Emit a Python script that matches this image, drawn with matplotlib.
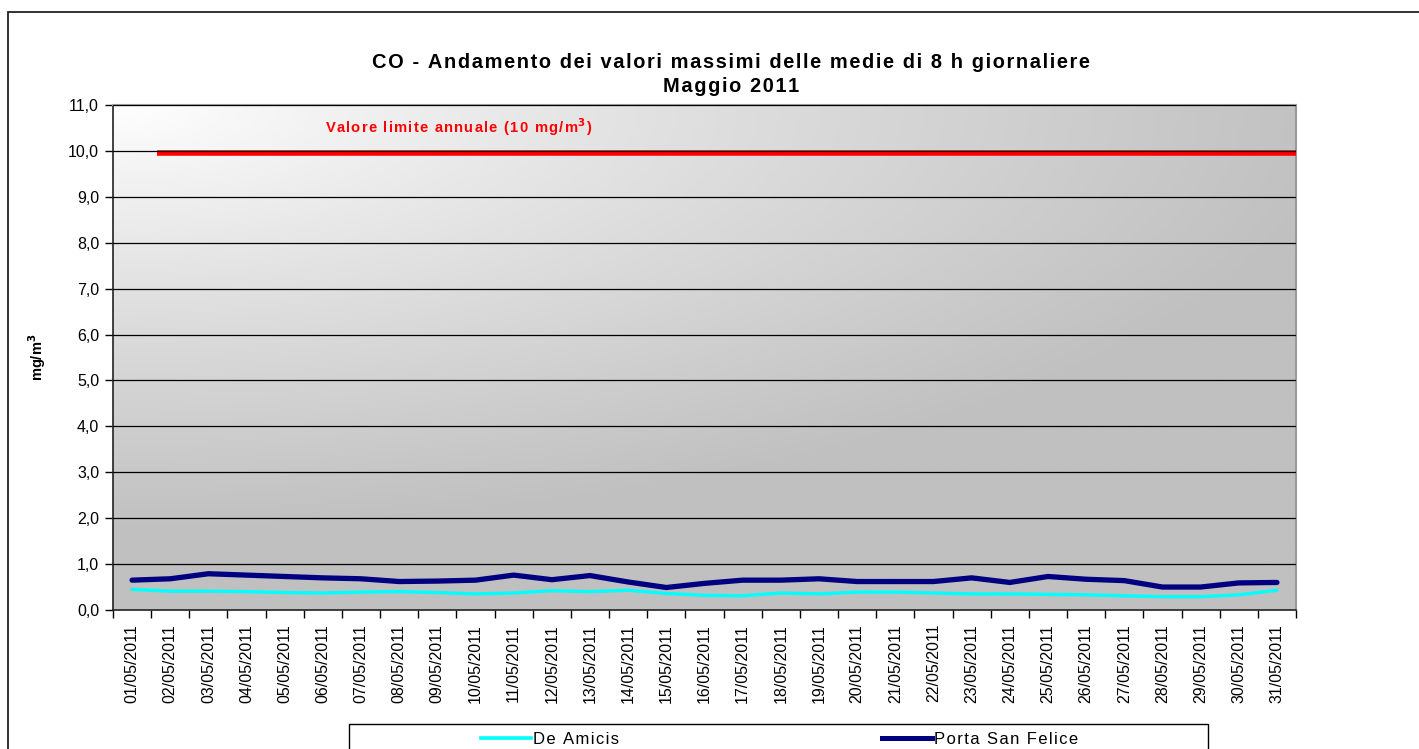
import matplotlib
matplotlib.use("Agg")
import matplotlib.pyplot as plt
import matplotlib.transforms as mtransforms
import numpy as np
from matplotlib.patches import Rectangle
from matplotlib.lines import Line2D
from matplotlib.colors import LinearSegmentedColormap

plt.rcParams['font.family'] = ['Liberation Sans', 'DejaVu Sans']

dates = [f"{d:02d}/05/2011" for d in range(1, 32)]
porta_san_felice = [0.65, 0.68, 0.79, 0.76, 0.73, 0.70, 0.68, 0.62, 0.63, 0.65,
                    0.76, 0.66, 0.75, 0.61, 0.49, 0.58, 0.65, 0.65, 0.68, 0.62,
                    0.62, 0.62, 0.70, 0.60, 0.73, 0.67, 0.64, 0.50, 0.50, 0.59, 0.60]
de_amicis = [0.45, 0.41, 0.41, 0.40, 0.38, 0.37, 0.39, 0.40, 0.38, 0.35,
             0.37, 0.42, 0.40, 0.43, 0.36, 0.32, 0.31, 0.37, 0.35, 0.39,
             0.39, 0.37, 0.35, 0.35, 0.34, 0.33, 0.31, 0.29, 0.29, 0.33, 0.43]
limit_value = 10.0
y_ticks = list(range(0, 12))

HS = '\u200a'


def spaced(s):
    return HS.join(s)


W, H = 1419, 749
fig = plt.figure(figsize=(W / 100, H / 100), dpi=100)
fig.patch.set_facecolor('white')

# outer border
fig.patches.append(Rectangle((8 / W, -0.05), 1.2, 1 - 12 / H + 0.05, transform=fig.transFigure,
                             fill=False, edgecolor='#222222', linewidth=1.3, zorder=0))

ax = fig.add_axes([113 / W, 1 - 610 / H, (1296 - 113) / W, (610 - 105) / H])

# gradient background
nx, ny = 300, 200
xx, yy = np.meshgrid(np.linspace(0, 1, nx), np.linspace(1, 0, ny))
t = np.sqrt((xx / 1.05) ** 2 + ((1 - yy) / 0.85) ** 2)
t = np.clip(t, 0, 1) ** 0.9
cmap = LinearSegmentedColormap.from_list('g', ['#ffffff', '#c0c0c0'])
ax.imshow(t, cmap=cmap, vmin=0, vmax=1, extent=[0, 1, 0, 1], transform=ax.transAxes,
          aspect='auto', zorder=0, interpolation='bilinear')

x = np.arange(len(dates))
ax.set_xlim(-0.5, len(dates) - 0.5)
ax.set_ylim(0, 11)

for yv in y_ticks[1:]:
    ax.axhline(yv, color='black', linewidth=0.9, zorder=4)

shift = mtransforms.offset_copy(ax.transData, fig=fig, x=0, y=-2.5, units='dots')
ax.hlines(limit_value, 0.65, len(dates) - 0.5, color='#ff0000', linewidth=4.0, zorder=3,
          transform=shift)
ax.plot(x, de_amicis, color='#00ffff', linewidth=2.4, zorder=5, solid_capstyle='round')
ax.plot(x, porta_san_felice, color='#000080', linewidth=3.8, zorder=6, solid_capstyle='round')

ax.text(5.05, 10.52, spaced("Valore limite annuale (10 mg/m") + "$^{\\mathbf{3}}$" + HS + ")",
        color='#ff0000', fontsize=10.6, fontweight='bold', ha='left', va='center', zorder=7)

ax.set_yticks(y_ticks)
ax.set_yticklabels([f"{v},0" for v in y_ticks], fontsize=11.5)
ax.set_xticks(x)
ax.set_xticklabels(dates, rotation=90, fontsize=11.5)
ax.set_xticks(np.arange(-0.5, len(dates)), minor=True)
ax.tick_params(axis='x', which='major', length=0, pad=10)
ax.tick_params(axis='x', which='minor', length=6, direction='out', width=1)
ax.tick_params(axis='y', length=6, direction='out', width=1, pad=4)

for side in ['left', 'bottom']:
    ax.spines[side].set_color('#222222')
    ax.spines[side].set_linewidth(1.2)
for side in ['top', 'right']:
    ax.spines[side].set_color('#999999')
    ax.spines[side].set_linewidth(1.5)

ax.set_ylabel("mg/m$^{\\mathbf{3}}$", fontsize=10.5, fontweight='bold')
ax.yaxis.set_label_coords((48 - 113) / (1296 - 113), 0.5)

fig.text(731 / W, 1 - 62 / H, spaced("CO - Andamento dei valori massimi delle medie di 8 h giornaliere"),
         ha='center', va='center', fontsize=14.4, fontweight='bold')
fig.text(731 / W, 1 - 87 / H, spaced("Maggio 2011"), ha='center', va='center', fontsize=14.4,
         fontweight='bold')

# legend box
fig.patches.append(Rectangle((349 / W, -0.05), (1208 - 349) / W, 1 - 724 / H + 0.05,
                             transform=fig.transFigure, fill=False, edgecolor='black',
                             linewidth=1.0, zorder=1))
legend_labels = ["De Amicis", "Porta San Felice"]
legend_colors = ['#00ffff', '#000080']
legend_widths = [2.6, 3.6]
col_centers = [550, 980]
for lab, col, lw, cx in zip(legend_labels, legend_colors, legend_widths, col_centers):
    lg = fig.legend([Line2D([], [], color=col, linewidth=lw)], [spaced(lab)],
                    loc='center', bbox_to_anchor=(cx / W, 1 - 739 / H), frameon=False,
                    fontsize=12, handlelength=3, handletextpad=0.1, borderpad=0,
                    borderaxespad=0)

fig.savefig("out.png", dpi=100)
